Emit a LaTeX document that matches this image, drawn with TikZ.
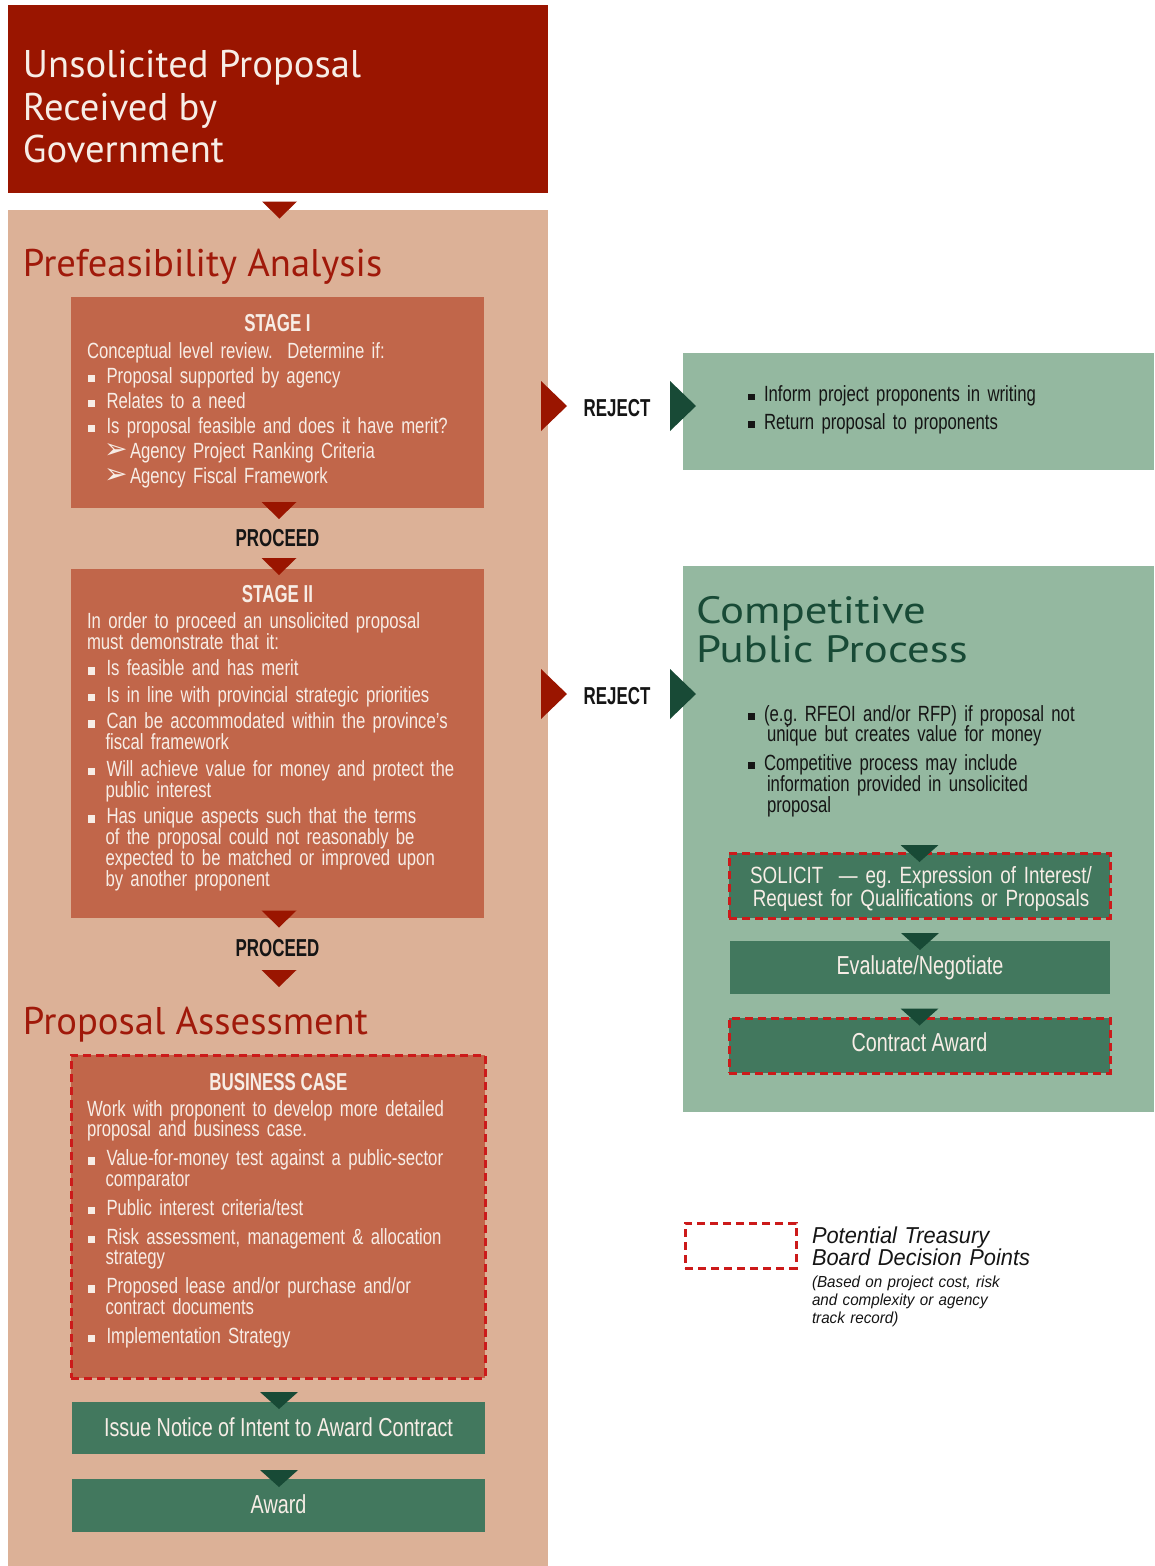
\documentclass[tikz,border=0pt]{standalone}
\usepackage{fontspec}
\setmainfont{Liberation Sans}[FakeStretch=0.76]
\newfontfamily\condbold{Liberation Sans}[FakeStretch=0.69]
\newfontfamily\solfont{Liberation Sans}[FakeStretch=0.8]
\newfontfamily\headfont{PT Sans}
\newfontfamily\wideheadfont{PT Sans}[FakeStretch=1.18]
\newfontfamily\legendfont{Liberation Sans}[FakeStretch=0.95]
\newfontfamily\symfont{DejaVu Sans}
\usetikzlibrary{calc}
\frenchspacing

\definecolor{topred}{HTML}{9A1500}
\definecolor{headred}{HTML}{A0190A}
\definecolor{peach}{HTML}{DCB197}
\definecolor{terra}{HTML}{C1664A}
\definecolor{sage}{HTML}{94B8A0}
\definecolor{boxgreen}{HTML}{42785E}
\definecolor{darkgreen}{HTML}{184A36}
\definecolor{dashred}{HTML}{CC1A1A}
\definecolor{cream}{HTML}{F7EDE6}
\definecolor{ink}{HTML}{151515}

% font set-ups
\newcommand{\bodyfs}{\fontsize{22}{20.8}\selectfont\lineskiplimit=-50pt\relax}
\newcommand{\boxfs}{\fontsize{26}{21.7}\selectfont\lineskiplimit=-50pt\relax}
\newcommand{\solfs}{\solfont\fontsize{23.5}{23}\selectfont\lineskiplimit=-50pt\relax}
\newcommand{\titlefs}{\condbold\bfseries\fontsize{24.5}{24}\selectfont}
\newcommand{\headfs}{\headfont\fontsize{38.6}{42}\selectfont}
\newcommand{\wideheadfs}{\wideheadfont\fontsize{38}{40}\selectfont}
\newcommand{\legfs}{\legendfont\itshape\fontsize{23}{22}\selectfont\lineskiplimit=-50pt\relax}
\newcommand{\notefs}{\legendfont\itshape\fontsize{16}{18}\selectfont\lineskiplimit=-50pt\relax}
% fixed first-line height, so a node's top sits 20pt above its first baseline
\newcommand{\fl}{\leavevmode\rule{0pt}{20pt}}
% list items
\newcommand{\sqb}{\makebox[19.5pt][l]{\hspace{0.5pt}\raisebox{1pt}{\rule{7.5pt}{7.5pt}}}}
\newcommand{\itm}[1]{\par\hangindent=18.5pt\hangafter=1\sqb#1}
\newcommand{\aitm}[1]{\par\hspace*{17pt}\makebox[26pt][l]{\symfont\fontsize{28}{20}\selectfont ➢}#1}
\newcommand{\dsq}{\makebox[16pt][l]{\raisebox{1.5pt}{\rule{6.5pt}{6.5pt}}}}
\newcommand{\ditm}[1]{\par\hangindent=19pt\hangafter=1\dsq#1}

\begin{document}
\begin{tikzpicture}[x=1pt, y=-1pt,
  every node/.style={inner sep=0pt, outer sep=0pt},
  block/.style={anchor=north west},
  decision/.style={draw=dashred, line width=3pt, dash pattern=on 8pt off 5pt},
  body/.style={anchor=north west, text width=#1, align=left, text=cream, font=\bodyfs},
  darkbody/.style={anchor=north west, text width=#1, align=left, text=ink, font=\bodyfs},
  stagetitle/.style={anchor=base, text=cream, font=\titlefs},
  flowlabel/.style={anchor=base, text=ink, font=\titlefs},
  boxlabel/.style={anchor=base, text=cream, font=\boxfs},
  head/.style={anchor=base west, font=\headfs},
  widehead/.style={anchor=base west, font=\wideheadfs},
  pics/tri/.style={code={\fill (-#1/2,0) -- (#1/2,0) -- (0,17) -- cycle;}},
  pics/rtri/.style={code={\fill (0,-25) -- (0,25) -- (26,0) -- cycle;}}
]
\useasboundingbox (0,0) rectangle (1154,1566);
\fill[white] (0,0) rectangle (1154,1566);

% ---------------- left column ----------------
\node[block, fill=topred, minimum width=540, minimum height=187.5] (top) at (8,5) {};
\node[block, fill=peach, minimum width=540, minimum height=1356] (panel) at (8,210) {};

\node[head, text=cream] (toptitleA) at (23,77.5) {Unsolicited Proposal};
\node[head, text=cream] (toptitleB) at (23,120) {Received by};
\node[head, text=cream] (toptitleC) at (23,162.7) {Government};
\pic[fill=topred] at ($(top.south)+(1.5,9)$) {tri=35};

\node[head, text=headred] (prefeas) at (23,276) {Prefeasibility Analysis};

% Stage I
\node[block, fill=terra, minimum width=413, minimum height=211] (stageI) at (71,297) {};
\node[stagetitle] (stageIhead) at (277.5,331.7) {STAGE I};
\node[body=390] (stageItext) at (87,338) {\fl Conceptual level review.\ \ Determine if:\setlength{\parskip}{4.2pt}
\itm{Proposal supported by agency}
\itm{Relates to a need}
\itm{Is proposal feasible and does it have merit?}
\aitm{Agency Project Ranking Criteria}
\aitm{Agency Fiscal Framework}\par};
\pic[fill=topred] at ($(stageI.south)+(1.5,-6)$) {tri=35};
\node[flowlabel] (proceedA) at (277.5,546) {PROCEED};

% Stage II
\node[block, fill=terra, minimum width=413, minimum height=349] (stageII) at (71,569) {};
\pic[fill=topred] at ($(stageII.north)+(1.5,-11)$) {tri=35};
\node[stagetitle] (stageIIhead) at (277.5,602) {STAGE II};
\node[body=390] (stageIItext) at (87,608.3) {\fl In order to proceed an unsolicited proposal\newline must demonstrate that it:\setlength{\parskip}{5.8pt}
\itm{Is feasible and has merit}
\itm{Is in line with provincial strategic priorities}
\itm{Can be accommodated within the province's\newline fiscal framework}
\itm{Will achieve value for money and protect the\newline public interest}
\itm{Has unique aspects such that the terms\newline of the proposal could not reasonably be\newline expected to be matched or improved upon\newline by another proponent}\par};
\pic[fill=topred] at ($(stageII.south)+(1.5,-7.5)$) {tri=35};
\node[flowlabel] (proceedB) at (277.5,956) {PROCEED};
\pic[fill=topred] at ($(stageII.south)+(1.5,52)$) {tri=35};

\node[head, text=headred] (assess) at (23,1034) {Proposal Assessment};

% Business case
\node[block, fill=terra, decision, minimum width=414, minimum height=323] (bcase) at (71,1055) {};
\node[stagetitle] (bcasehead) at (278.5,1090) {BUSINESS CASE};
\node[body=390] (bcasetext) at (87,1096) {\fl Work with proponent to develop more detailed\newline proposal and business case.\setlength{\parskip}{8pt}
\itm{Value-for-money test against a public-sector\newline comparator}
\itm{Public interest criteria/test}
\itm{Risk assessment, management \& allocation\newline strategy}
\itm{Proposed lease and/or purchase and/or\newline contract documents}
\itm{Implementation Strategy}\par};

% award steps
\node[block, fill=boxgreen, minimum width=413, minimum height=52] (notice) at (72,1402) {};
\node[boxlabel] (noticetext) at (278.5,1436) {Issue Notice of Intent to Award Contract};
\pic[fill=darkgreen] at ($(notice.north)+(0.5,-10)$) {tri=38};
\node[block, fill=boxgreen, minimum width=413, minimum height=53] (award) at (72,1479) {};
\node[boxlabel] (awardtext) at (278.5,1513) {Award};
\pic[fill=darkgreen] at ($(award.north)+(0.5,-9)$) {tri=38};

% ---------------- right column ----------------
% first rejection
\node[block, fill=sage, minimum width=471, minimum height=117] (rejectbox) at (683,353) {};
\pic[fill=topred] at (541,406) {rtri};
\node[flowlabel] (rejectA) at (617,416) {REJECT};
\pic[fill=darkgreen] at (670,406) {rtri};
\node[darkbody=380] (rejecttext) at (748,381.5) {\fl\dsq Inform project proponents in writing\setlength{\parskip}{7pt}
\ditm{Return proposal to proponents}\par};

% second rejection: competitive public process
\node[block, fill=sage, minimum width=471, minimum height=546] (compbox) at (683,566) {};
\pic[fill=topred] at (541,694) {rtri};
\node[flowlabel] (rejectB) at (617,704) {REJECT};
\pic[fill=darkgreen] at (670,694) {rtri};
\node[widehead, text=darkgreen] (compA) at (696,623) {Competitive};
\node[widehead, text=darkgreen] (compB) at (696,662) {Public Process};
\node[darkbody=380] (comptext) at (748,701) {\fl\hangindent=19pt\hangafter=1\dsq(e.g. RFEOI and/or RFP) if proposal not\newline unique but creates value for money\setlength{\parskip}{7.8pt}
\ditm{Competitive process may include\newline information provided in unsolicited\newline proposal}\par};

\node[block, fill=boxgreen, decision, minimum width=381, minimum height=65] (solicit) at (729,853) {};
\pic[fill=darkgreen] at ($(solicit.north)+(0,-8)$) {tri=38};
\node[anchor=north, text width=380, align=center, text=cream, font=\solfs] (solicittext) at (921,863.5) {\fl SOLICIT\ \ — eg. Expression of Interest/\\Request for Qualifications or Proposals};

\node[block, fill=boxgreen, minimum width=380, minimum height=53] (evaluate) at (730,941) {};
\pic[fill=darkgreen] at ($(evaluate.north)+(0,-8)$) {tri=38};
\node[boxlabel] (evaluatetext) at (920,974) {Evaluate/Negotiate};

\node[block, fill=boxgreen, decision, minimum width=381, minimum height=55] (contract) at (729,1018) {};
\pic[fill=darkgreen] at ($(contract.north)+(0,-9.5)$) {tri=38};
\node[boxlabel] (contracttext) at (919.5,1051.7) {Contract Award};

% legend
\node[block, decision, minimum width=111, minimum height=45] (legendbox) at (685,1223) {};
\node[anchor=north west, text width=330, align=left, text=ink, font=\legfs] (legendtitle) at (812,1223) {\fl Potential Treasury\\Board Decision Points};
\node[anchor=north west, text width=330, align=left, text=ink, font=\notefs] (legendnote) at (812,1267) {\fl (Based on project cost, risk\\and complexity or agency\\track record)};
\end{tikzpicture}
\end{document}
